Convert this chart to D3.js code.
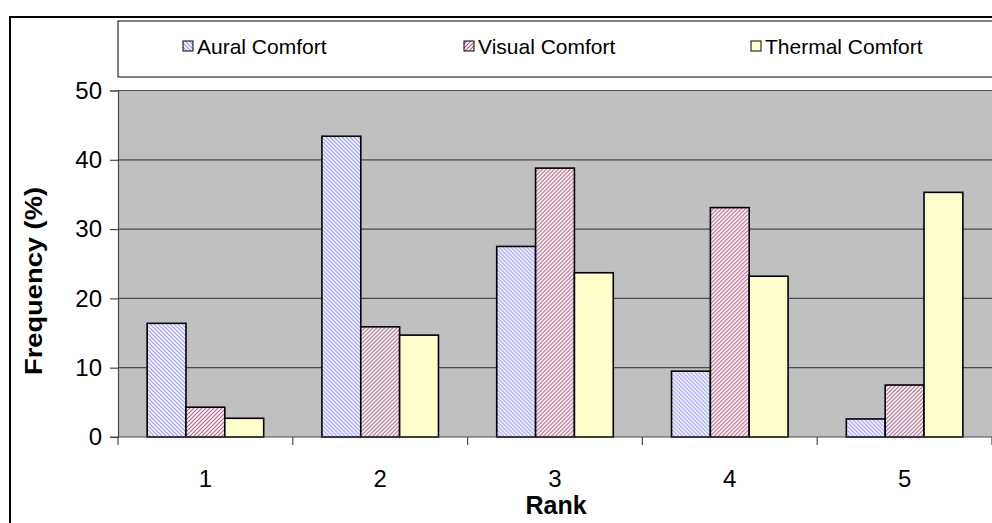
<!DOCTYPE html>
<html>
<head>
<meta charset="utf-8">
<script src="https://cdn.jsdelivr.net/npm/d3@7"></script>
<style>
  html, body { margin: 0; padding: 0; background: #fff; }
  svg { display: block; font-family: "Liberation Sans", Arial, sans-serif; }
</style>
</head>
<body>
<svg id="chart" width="992" height="523"></svg>
<script>
// Ranking frequencies of the three comfort factors
const ranks = ["1", "2", "3", "4", "5"];
const seriesNames = ["Aural Comfort", "Visual Comfort", "Thermal Comfort"];
const aural = [16.4, 43.4, 27.5, 9.5, 2.6];
const visual = [4.3, 15.9, 38.8, 33.1, 7.5];
const thermal = [2.7, 14.7, 23.7, 23.2, 35.3];
const yTicks = [0, 10, 20, 30, 40, 50];

const seriesValues = [aural, visual, thermal];

const svg = d3.select("#chart");
const plot = { left: 118, right: 992, top: 90.5, bottom: 437 };

// Fill patterns: diagonal hatches and a plain light yellow
const defs = svg.append("defs");
function hatch(id, color, dir, w) {
  const p = defs.append("pattern")
    .attr("id", id).attr("patternUnits", "userSpaceOnUse")
    .attr("width", 4).attr("height", 4);
  p.append("rect").attr("width", 4).attr("height", 4).attr("fill", "#fff");
  const d = dir === "back"
    ? "M-1,-1 L5,5 M-1,3 L1,5 M3,-1 L5,1"
    : "M-1,5 L5,-1 M-1,1 L1,-1 M3,5 L5,3";
  p.append("path").attr("d", d).attr("stroke", color).attr("stroke-width", w);
}
hatch("patAural", "#a4a4ff", "back", 1.3);
hatch("patVisual", "#b36088", "fwd", 1.2);
const fills = ["url(#patAural)", "url(#patVisual)", "#ffffcc"];

// Outer frame
svg.append("rect").attr("x", 10).attr("y", 17).attr("width", 1000).attr("height", 520)
  .attr("fill", "#fff").attr("stroke", "#000").attr("stroke-width", 2);

const x0 = d3.scaleBand().domain(ranks).range([plot.left, plot.right]);
const bw = x0.bandwidth();
const x1 = d3.scaleBand().domain(seriesNames).range([bw / 6, bw - bw / 6]);
const y = d3.scaleLinear().domain([0, 50]).range([plot.bottom, plot.top]);

// Plot area
svg.append("rect").attr("x", plot.left).attr("y", plot.top)
  .attr("width", plot.right - plot.left).attr("height", plot.bottom - plot.top)
  .attr("fill", "#c0c0c0");

// Gridlines
svg.append("g").selectAll("line").data(yTicks.filter(t => t > 0)).join("line")
  .attr("x1", plot.left).attr("x2", plot.right)
  .attr("y1", d => y(d)).attr("y2", d => y(d))
  .attr("stroke", "#4a4a4a").attr("stroke-width", 1.2);

// Bars
const groups = svg.append("g").selectAll("g").data(ranks).join("g")
  .attr("transform", r => `translate(${x0(r)},0)`);
groups.selectAll("rect")
  .data((r, i) => seriesNames.map((s, k) => ({ s, k, v: seriesValues[k][i] })))
  .join("rect")
  .attr("x", d => x1(d.s)).attr("width", x1.bandwidth())
  .attr("y", d => y(d.v)).attr("height", d => y(0) - y(d.v))
  .attr("fill", d => fills[d.k]).attr("stroke", "#000").attr("stroke-width", 1.6);

// Y axis
const yAxis = svg.append("g").attr("transform", `translate(${plot.left},0)`)
  .call(d3.axisLeft(y).tickValues(yTicks).tickSize(8).tickPadding(8));
yAxis.select(".domain").attr("stroke", "#4a4a4a").attr("stroke-width", 1.2);
yAxis.selectAll(".tick line").attr("stroke", "#4a4a4a").attr("stroke-width", 1.2);
yAxis.selectAll(".tick text").attr("font-size", 24).attr("fill", "#000")
  .attr("font-family", "Liberation Sans, Arial, sans-serif");

// X axis: boundary ticks between categories, labels centred
const xAxisG = svg.append("g");
xAxisG.append("line").attr("x1", plot.left - 8).attr("x2", plot.right)
  .attr("y1", plot.bottom).attr("y2", plot.bottom)
  .attr("stroke", "#4a4a4a").attr("stroke-width", 1.2);
const bounds = ranks.map(r => x0(r)).concat([x0(ranks[ranks.length - 1]) + bw]);
xAxisG.selectAll("line.b").data(bounds).join("line").attr("class", "b")
  .attr("x1", d => d).attr("x2", d => d)
  .attr("y1", plot.bottom).attr("y2", plot.bottom + 8)
  .attr("stroke", "#4a4a4a").attr("stroke-width", 1.2);
xAxisG.selectAll("text").data(ranks).join("text")
  .attr("x", r => x0(r) + bw / 2).attr("y", 487)
  .attr("text-anchor", "middle").attr("font-size", 24).text(r => r);

// Axis titles
svg.append("text").attr("x", 556).attr("y", 514).attr("text-anchor", "middle")
  .attr("font-size", 25).attr("font-weight", "bold").text("Rank");
svg.append("text").attr("transform", "translate(42,281) rotate(-90)")
  .attr("text-anchor", "middle").attr("font-size", 23).attr("font-weight", "bold")
  .attr("textLength", 188).attr("lengthAdjust", "spacingAndGlyphs")
  .text("Frequency (%)");

// Legend
const lg = svg.append("g");
lg.append("rect").attr("x", plot.left).attr("y", 21).attr("width", 900).attr("height", 56)
  .attr("fill", "#fff").attr("stroke", "#000").attr("stroke-width", 1);
const legendX = [183, 464, 751];
seriesNames.forEach((s, k) => {
  lg.append("rect").attr("x", legendX[k]).attr("y", 41).attr("width", 10).attr("height", 10)
    .attr("fill", fills[k]).attr("stroke", "#000").attr("stroke-width", 1);
  lg.append("text").attr("x", legendX[k] + 14).attr("y", 54)
    .attr("font-size", 21).text(s);
});
</script>
</body>
</html>
